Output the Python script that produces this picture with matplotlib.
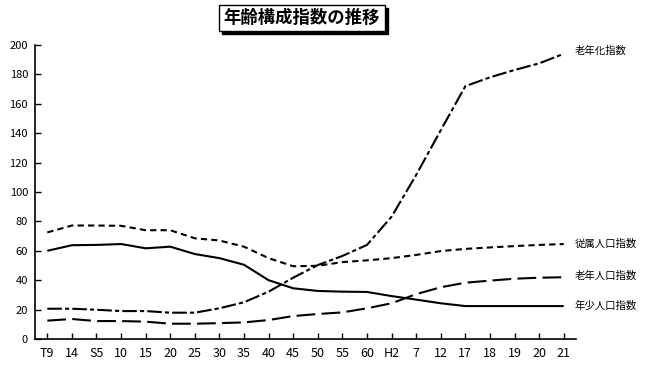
import matplotlib
matplotlib.use("Agg")
import matplotlib.pyplot as plt
from matplotlib.patches import Rectangle

plt.rcParams['font.family'] = ['Noto Sans CJK JP', 'DejaVu Sans']

categories = ["T9", "14", "S5", "10", "15", "20", "25", "30", "35", "40", "45",
              "50", "55", "60", "H2", "7", "12", "17", "18", "19", "20", "21"]

dependency = [72.5, 77.2, 77.2, 77.0, 74.0, 74.0, 68.5, 67.0, 62.8, 55.0, 49.5,
              49.8, 52.3, 53.5, 55.0, 57.2, 59.8, 61.3, 62.3, 63.2, 64.0, 64.6]
youth = [60.0, 63.8, 64.0, 64.6, 61.7, 62.8, 57.8, 55.0, 50.5, 40.0, 34.5,
         32.7, 32.2, 32.0, 29.2, 26.8, 24.3, 22.4, 22.4, 22.4, 22.4, 22.4]
elderly = [12.5, 13.6, 12.2, 12.2, 11.8, 10.4, 10.4, 10.8, 11.3, 12.9, 15.6,
           17.0, 18.1, 20.9, 24.3, 30.5, 35.2, 38.3, 39.7, 41.0, 41.7, 42.0]
aging = [20.6, 20.6, 19.9, 19.0, 19.0, 17.9, 17.9, 20.9, 25.0, 32.2, 41.7,
         50.3, 56.5, 64.0, 83.2, 111.6, 142.0, 172.0, 178.0, 183.0, 187.5, 194.0]

series_names = ["老年化指数", "従属人口指数", "老年人口指数", "年少人口指数"]
y_ticks = [0, 20, 40, 60, 80, 100, 120, 140, 160, 180, 200]
title = "年齢構成指数の推移"

fig = plt.figure(figsize=(6.5, 3.69), dpi=100)
ax = fig.add_axes([35/650, 1-339/369, (576-35)/650, (339-45)/369])

x = list(range(len(categories)))
lw = 1.5
ax.plot(x, aging, color='black', lw=lw, dashes=(7, 1.5, 2, 1.5))
ax.plot(x, dependency, color='black', lw=lw, dashes=(3, 2))
ax.plot(x, elderly, color='black', lw=lw, dashes=(9, 3))
ax.plot(x, youth, color='black', lw=lw, solid_capstyle='butt')

ax.set_xlim(-0.5, len(categories) - 0.5)
ax.set_ylim(0, 200)
ax.set_yticks(y_ticks)
ax.set_xticks(x)
ax.set_xticklabels(categories)
for s in ['top', 'right']:
    ax.spines[s].set_visible(False)
for s in ['left', 'bottom']:
    ax.spines[s].set_linewidth(1.2)
ax.tick_params(direction='in', length=4, width=1, labelsize=8, pad=5)
ax.tick_params(axis='x', labelsize=9, pad=6)

ends = [aging[-1] + 2, dependency[-1], elderly[-1] + 1, youth[-1]]
for name, v in zip(series_names, ends):
    ax.annotate(name, xy=(x[-1], v), xytext=(8, 0), textcoords='offset points',
                fontsize=7.5, va='center', ha='left', annotation_clip=False)

# title with drop shadow
tx, ty = 302/650, 1-18/369
t = fig.text(tx, ty, title, fontsize=12.5, fontweight='bold', ha='center', va='center',
             zorder=5,
             bbox=dict(boxstyle='square,pad=0.25', facecolor='white', edgecolor='black', lw=1))
fig.canvas.draw()
bb = t.get_bbox_patch().get_window_extent()
W, H = fig.bbox.width, fig.bbox.height
fig.patches.append(Rectangle(((bb.x0 + 3) / W, (bb.y0 - 3) / H), bb.width / W, bb.height / H,
                             transform=fig.transFigure, facecolor='black', edgecolor='black',
                             zorder=4))

fig.savefig("out.png", dpi=100)
